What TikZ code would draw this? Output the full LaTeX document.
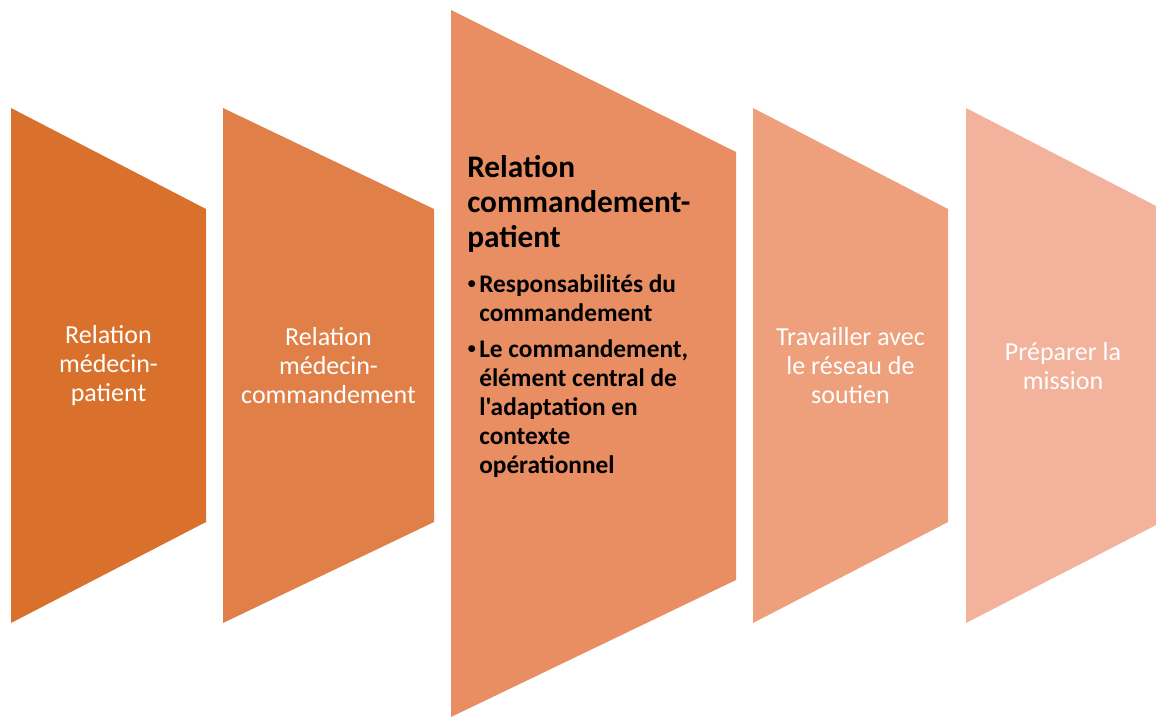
\documentclass[tikz,border=0pt]{standalone}
\usepackage{fontspec}
\setmainfont{Carlito}[Ligatures=TeXOff]
\newfontfamily\bulletfont{Liberation Sans}
\definecolor{stageA}{HTML}{D9712C}
\definecolor{stageB}{HTML}{E08048}
\definecolor{stageC}{HTML}{E88E62}
\definecolor{stageD}{HTML}{EEA07D}
\definecolor{stageE}{HTML}{F3B29B}
\newcommand{\keybullet}{\makebox[9pt][l]{\bulletfont\mdseries•}}
\begin{document}
\begin{tikzpicture}[x=0.75pt,y=-0.75pt,
  stagetext/.style={text=white,align=center,inner sep=0pt,font=\fontsize{19.5}{21.75}\selectfont},
  keytitle/.style={text=black,align=left,inner sep=0pt,anchor=north west,font=\bfseries\fontsize{23.5}{26.25}\selectfont},
  keyitems/.style={text=black,align=left,inner sep=0pt,anchor=north west,font=\bfseries\fontsize{19}{21.75}\selectfont}]
\clip (0,0) rectangle (1156,717);
% stages
\fill[stageA] (11,108) -- (206,209) -- (206,522) -- (11,623) -- cycle;
\fill[stageB] (223,108) -- (434,209) -- (434,522) -- (223,623) -- cycle;
\fill[stageC] (451,10) -- (736,152) -- (736,580) -- (451,717) -- cycle;
\fill[stageD] (753,108) -- (948,209) -- (948,522) -- (753,623) -- cycle;
\fill[stageE] (966,108) -- (1160,208) -- (1160,523) -- (966,623) -- cycle;
% labels
\node[stagetext] (medpat) at (108.5,366) {Relation\\médecin-\\patient};
\node[stagetext] (medcom) at (328.5,366) {Relation\\médecin-\\commandement};
\node[keytitle] (compat) at (467,155.5) {Relation\\commandement-\\patient};
\node[keyitems] (comitems) at (467,274) {\keybullet Responsabilités du\\
  \hspace*{9pt}commandement\\[5.25pt]
  \keybullet Le commandement,\\
  \hspace*{9pt}élément central de\\
  \hspace*{9pt}l'adaptation en\\
  \hspace*{9pt}contexte\\
  \hspace*{9pt}opérationnel};
\node[stagetext] (reseau) at (850.5,366) {Travailler avec\\le réseau de\\soutien};
\node[stagetext] (mission) at (1063,366) {Préparer la\\mission};
\end{tikzpicture}
\end{document}
